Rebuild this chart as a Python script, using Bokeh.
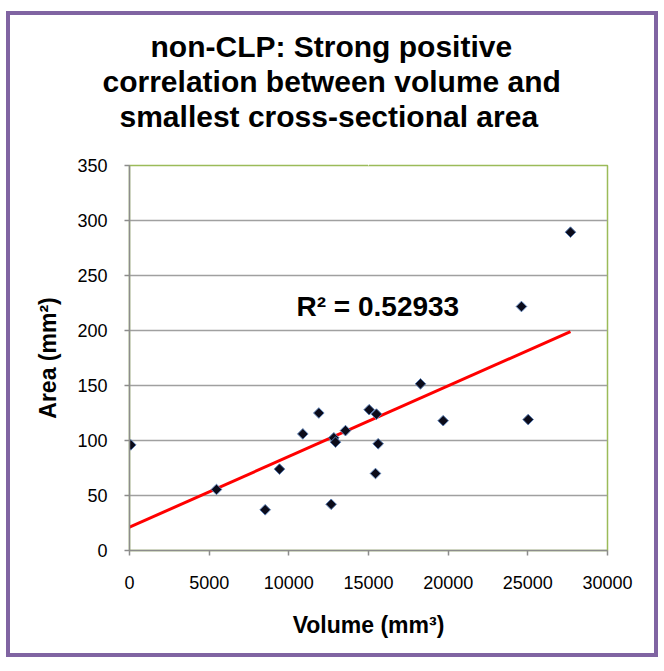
import math
from bokeh.plotting import figure
from bokeh.models import (Range1d, FixedTicker, Label, BasicTickFormatter, Title,
                          LinearAxis)
from bokeh.embed import file_html
from bokeh.resources import INLINE

# ---- data ----
volume = [80, 5460, 8515, 9414, 10878, 11883, 12656, 12825, 12929, 13556,
          15041, 15500, 15606, 15439, 18263, 19686, 25020, 24600, 27677]
area = [96, 55.5, 37, 74, 106, 125, 42, 102.4, 98.5, 109,
        128, 124, 97, 70, 151.5, 118, 119, 221.8, 289.4]
trend_x = [0, 27677]
trend_y = [21.2, 199.0]
x_ticks = [0, 5000, 10000, 15000, 20000, 25000, 30000]
y_ticks = [0, 50, 100, 150, 200, 250, 300, 350]
title_lines = ["non-CLP: Strong positive",
               "correlation between volume and",
               "smallest cross-sectional area"]
r2_text = "R\u00b2 = 0.52933"
x_label = "Volume (mm\u00b3)"
y_label = "Area (mm\u00b2)"

FONT = "Liberation Sans"

p = figure(width=664, height=658, output_backend="svg", toolbar_location=None,
           title_location=None,
           x_range=Range1d(0, 30000), y_range=Range1d(0, 350),
           min_border_left=129, min_border_right=57,
           min_border_top=160, min_border_bottom=113)
p.margin = (5, 0, 0, 0)
p.styles = {"outline": "4px solid #8064A2", "outline-offset": "-10px"}

p.background_fill_color = "white"
p.border_fill_color = None
p.outline_line_color = "#9bbb59"
p.outline_line_width = 1.5

# grid
p.xgrid.visible = False
p.ygrid.grid_line_color = "#a0a0a0"
p.ygrid.grid_line_width = 1.5
p.ygrid.ticker = FixedTicker(ticks=y_ticks)

for ax in (p.xaxis[0], p.yaxis[0]):
    ax.axis_line_color = "#8c8c8c"
    ax.axis_line_width = 1.5
    ax.major_tick_line_color = "#8c8c8c"
    ax.major_tick_line_width = 1.5
    ax.major_tick_out = 5
    ax.major_tick_in = 0
    ax.minor_tick_line_color = None
    ax.major_label_text_font = FONT
    ax.major_label_text_font_size = "18px"
    ax.major_label_text_color = "black"
    ax.axis_label_text_font = FONT
    ax.axis_label_text_font_size = "23px"
    ax.axis_label_text_font_style = "bold"
    ax.axis_label_text_color = "black"

p.xaxis.ticker = FixedTicker(ticks=x_ticks)
p.yaxis.ticker = FixedTicker(ticks=y_ticks)
p.xaxis.formatter = BasicTickFormatter(use_scientific=False)
p.yaxis.formatter = BasicTickFormatter(use_scientific=False)
p.xaxis.axis_label = x_label
p.yaxis.axis_label = y_label
p.xaxis.major_label_standoff = 20
p.yaxis.major_label_standoff = 17
p.xaxis.axis_label_standoff = 20
p.yaxis.axis_label_standoff = 13

# trend line
p.line(trend_x, trend_y, line_color="#ff0000", line_width=3)

# points
p.scatter(volume, area, marker="square", size=7.5, angle=math.pi / 4,
          fill_color="#0b0b1a", line_color="#5b7fb5", line_width=1)

# R^2 annotation
p.add_layout(Label(x=10481, y=221.4, text=r2_text, text_font=FONT,
                   text_font_size="28px", text_font_style="bold",
                   text_color="black", text_baseline="alphabetic",
                   text_align="left"))

# blank spacer between the frame and the title block (white tick, empty label)
spacer = LinearAxis(ticker=FixedTicker(ticks=[15000]),
                    major_label_overrides={15000: ""},
                    major_label_text_font_size="1px",
                    major_tick_out=33, major_tick_in=0, major_label_standoff=0,
                    axis_line_color=None, major_tick_line_color="white",
                    minor_tick_line_color=None, minor_tick_out=0)
p.add_layout(spacer, "above")

# title lines (added from the frame outward)
title_offsets = [21, -27, -10]
for t, off in reversed(list(zip(title_lines, title_offsets))):
    p.add_layout(Title(text=t, align="left", offset=off, standoff=0,
                       text_font=FONT, text_font_size="30px",
                       text_font_style="bold", text_color="black"), "above")

open("out.html", "w").write(file_html(p, INLINE))
